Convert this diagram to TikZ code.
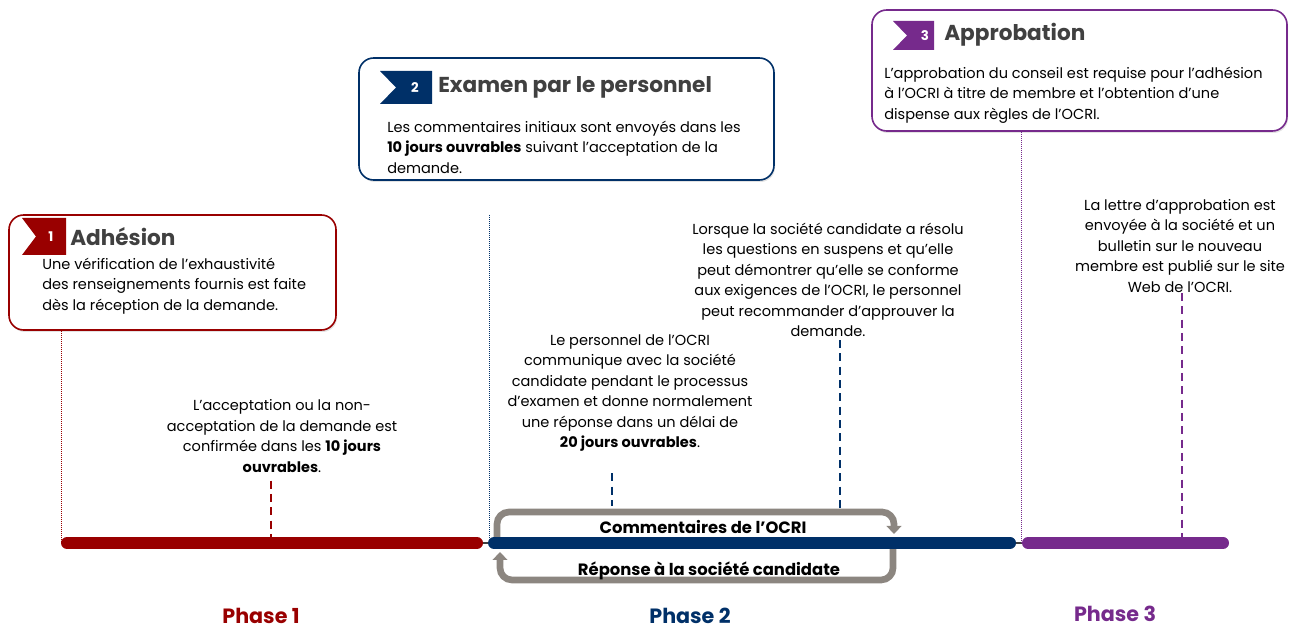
\documentclass[tikz,border=0pt]{standalone}
\usepackage{fontspec}
\setmainfont{Poppins}
\usetikzlibrary{arrows.meta,shadows}

\definecolor{phaseA}{RGB}{153,0,0}
\definecolor{phaseB}{RGB}{0,48,104}
\definecolor{phaseC}{RGB}{118,42,140}
\definecolor{loopgray}{RGB}{140,134,128}
\definecolor{titlegray}{RGB}{64,64,64}

\tikzset{
  stepcard/.style={draw=#1, line width=1.2pt, rounded corners=11pt, fill=white,
    drop shadow={opacity=0.22, shadow xshift=0.8pt, shadow yshift=-1.5pt}},
  cardtitle/.style={anchor=west, inner sep=0pt, text=titlegray, font=\fontsize{16.2}{19}\selectfont\bfseries},
  cardtext/.style={anchor=west, inner sep=0pt, align=left, font=\fontsize{10.9}{15.4}\selectfont},
  note/.style={inner sep=0pt, align=center, font=\fontsize{10.9}{15.4}\selectfont},
  flagnum/.style={text=white, inner sep=0pt, font=\fontsize{10}{10}\selectfont\bfseries},
  phasebar/.style={line width=9pt, line cap=round},
  guide/.style={line width=0.5pt, densely dotted},
  tick/.style={line width=1.5pt, dash pattern=on 6pt off 4pt},
  loopline/.style={line width=5pt, draw=loopgray, rounded corners=9pt, -{Triangle[width=11pt,length=6pt]}},
  phaselabel/.style={inner sep=0pt, font=\fontsize{15.5}{17}\selectfont\bfseries},
  looplabel/.style={font=\fontsize{12.3}{14}\selectfont\bfseries}
}

\begin{document}
\begin{tikzpicture}[x=0.75pt,y=0.75pt,yscale=-1,xscale=1]
\useasboundingbox (0,0) rectangle (1303,630);

%Loop arrows (behind the bars)
\draw[loopline] (497,540) |- (894,512) -- (894,534);
\draw[loopline] (893,548) |- (500,580) -- (500,552);

%Timeline
\draw[line width=0.8pt, black!75] (62,543) -- (1228,543);
\draw[phasebar, phaseA] (67,543) -- (477,543);
\draw[phasebar, phaseB] (494,543) -- (1010,543);
\draw[phasebar, phaseC] (1028,543) -- (1223,543);

\coordinate (gA) at (61,543);
\coordinate (gB) at (489,543);
\coordinate (gC) at (1021,543);
\coordinate (tA) at (271,539);
\coordinate (tB) at (612,506);
\coordinate (tC) at (840,511);
\coordinate (tD) at (1182,537);

%Card 1
\node[stepcard=phaseA, minimum width=245.25pt, minimum height=86.25pt] (card1) at (172.5,272.5) {};
\fill[phaseA] (22,218) -- (66,218) -- (66,255) -- (22,255) -- (36,236.5) -- cycle;
\node[flagnum] (num1) at (51,236.5) {1};
\node[cardtitle] (title1) at (70,236.5) {Adhésion};
\node[cardtext] (text1) at (42,286) {Une vérification de l’exhaustivité\\des renseignements fournis est faite\\dès la réception de la demande.};

%Card 2
\node[stepcard=phaseB, minimum width=311.25pt, minimum height=91.5pt] (card2) at (566.5,119) {};
\fill[phaseB] (380,71) -- (432,71) -- (432,104) -- (380,104) -- (396,87.5) -- cycle;
\node[flagnum] (num2) at (415,88) {2};
\node[cardtitle] (title2) at (438,87) {Examen par le personnel};
\node[cardtext] (text2) at (387,147) {Les commentaires initiaux sont envoyés dans les\\\textbf{10 jours ouvrables} suivant l’acceptation de la\\demande.};

%Card 3
\node[stepcard=phaseC, minimum width=311.25pt, minimum height=90.75pt] (card3) at (1079.5,70.5) {};
\fill[phaseC] (893,21) -- (934,21) -- (934,50) -- (893,50) -- (907,35.5) -- cycle;
\node[flagnum] (num3) at (925,36) {3};
\node[cardtitle] (title3) at (944,35) {Approbation};
\node[cardtext] (text3) at (884,95) {L’approbation du conseil est requise pour l’adhésion\\à l’OCRI à titre de membre et l’obtention d’une\\dispense aux règles de l’OCRI.};

%Guides
\draw[guide, phaseA] (card1.south -| gA) -- (gA);
\draw[guide, phaseB] (489,215) -- (gB);
\draw[guide, phaseC] (card3.south -| gC) -- (gC);

%Notes
\node[note] (note1) at (282,436) {L’acceptation ou la non-\\acceptation de la demande est\\confirmée dans les \textbf{10 jours}\\\textbf{ouvrables}.};
\node[note] (note2) at (630,393) {Le personnel de l’OCRI\\communique avec la société\\candidate pendant le processus\\d’examen et donne normalement\\une réponse dans un délai de\\\textbf{20 jours ouvrables}.};
\node[note] (note3) at (828,280) {Lorsque la société candidate a résolu\\les questions en suspens et qu’elle\\peut démontrer qu’elle se conforme\\aux exigences de l’OCRI, le personnel\\peut recommander d’approuver la\\demande.};
\node[note] (note4) at (1180,246) {La lettre d’approbation est\\envoyée à la société et un\\bulletin sur le nouveau\\membre est publié sur le site\\Web de l’OCRI.};

%Ticks
\draw[tick, phaseA, shorten <=6pt] (note1.south -| tA) -- (tA);
\draw[tick, phaseB, shorten <=16pt] (note2.south -| tB) -- (tB);
\draw[tick, phaseB, shorten <=2pt] (note3.south -| tC) -- (tC);
\draw[tick, phaseC] (note4.south -| tD) -- (tD);

%Loop labels
\node[looplabel] (fwd) at (703,527) {Commentaires de l’OCRI};
\node[looplabel] (back) at (709,571) {Réponse à la société candidate};

%Phase labels
\node[phaselabel, text=phaseA] (ph1) at (261,616) {Phase 1};
\node[phaselabel, text=phaseB] (ph2) at (690,616) {Phase 2};
\node[phaselabel, text=phaseC] (ph3) at (1115,614) {Phase 3};

\end{tikzpicture}
\end{document}
